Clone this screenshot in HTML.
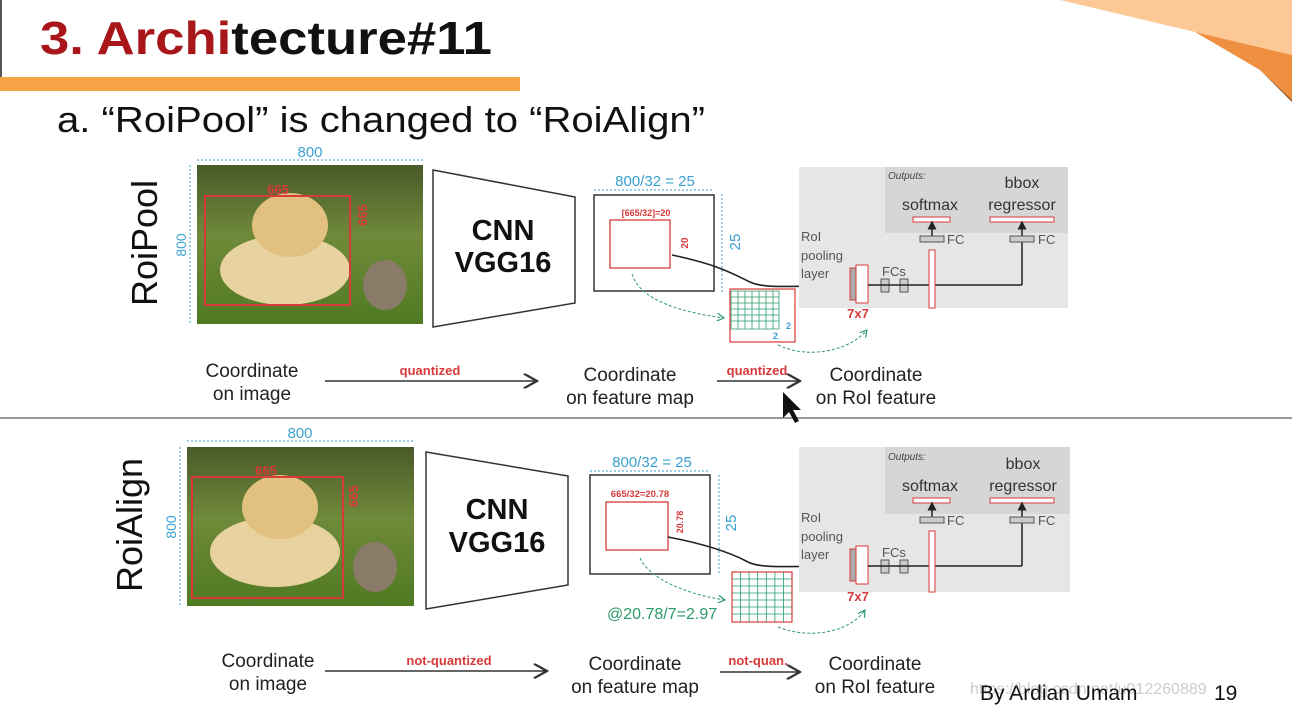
<!DOCTYPE html>
<html><head><meta charset="utf-8"><style>
html,body{margin:0;padding:0;background:#fff;}
svg{display:block;font-family:"Liberation Sans",sans-serif;}
</style></head><body>
<svg width="1292" height="708" viewBox="0 0 1292 708" xmlns="http://www.w3.org/2000/svg">
<defs>
<linearGradient id="ph" x1="0" y1="0" x2="0" y2="1">
<stop offset="0" stop-color="#4a5a2a"/><stop offset="0.45" stop-color="#6f8a3a"/><stop offset="1" stop-color="#4f7a22"/>
</linearGradient>
<marker id="ah" markerWidth="10" markerHeight="10" refX="9" refY="5" orient="auto"><path d="M0,0 L9,5 L0,10" fill="none" stroke="#333" stroke-width="1.5"/></marker>
<marker id="ag" markerWidth="8" markerHeight="8" refX="7" refY="4" orient="auto"><path d="M0,0 L7,4 L0,8" fill="none" stroke="#2a9a6a" stroke-width="1.2"/></marker>
<marker id="ak" markerWidth="6" markerHeight="6" refX="5" refY="3" orient="auto"><path d="M0,0 L6,3 L0,6Z" fill="#222"/></marker>
</defs>
<polygon points="1060,0 1292,0 1292,55 1195,32" fill="#fcc896"/>
<polygon points="1195,32 1292,55 1292,100 1260,70" fill="#ee9040"/>
<polygon points="1260,70 1292,100 1292,102" fill="#8a4a10"/>
<line x1="1" y1="0" x2="1" y2="90" stroke="#555" stroke-width="2"/>
<text x="40" y="54" font-size="46" font-weight="bold" textLength="452" lengthAdjust="spacingAndGlyphs"><tspan fill="#a8161a">3. Archi</tspan><tspan fill="#111">tecture#11</tspan></text>
<rect x="0" y="77" width="520" height="14" fill="#f7a345"/>
<text x="57" y="132" font-size="36" fill="#111" textLength="648" lengthAdjust="spacingAndGlyphs">a.  “RoiPool” is changed to “RoiAlign”</text>
<line x1="0" y1="418" x2="1292" y2="418" stroke="#777" stroke-width="1.5"/>

<text transform="translate(157,243) rotate(-90)" font-size="36" text-anchor="middle" fill="#111">RoiPool</text>
<line x1="197" y1="160" x2="423" y2="160" stroke="#3aa0d0" stroke-dasharray="2,2"/>
<text x="310" y="157" font-size="15" fill="#3aa0d0" text-anchor="middle">800</text>
<line x1="190" y1="165" x2="190" y2="324" stroke="#3aa0d0" stroke-dasharray="2,2"/>
<text transform="translate(186,245) rotate(-90)" font-size="14" fill="#3aa0d0" text-anchor="middle">800</text>
<rect x="197" y="165" width="226" height="159" fill="url(#ph)"/>
<ellipse cx="285" cy="270" rx="65" ry="35" fill="#e8d2a0"/>
<ellipse cx="290" cy="225" rx="38" ry="32" fill="#e2c080"/>
<ellipse cx="385" cy="285" rx="22" ry="25" fill="#8a7a68"/>
<rect x="205" y="196" width="145" height="109" fill="none" stroke="#d83a3a" stroke-width="2"/>
<text x="278" y="194" font-size="13" font-weight="bold" fill="#d83a3a" text-anchor="middle">665</text>
<text transform="translate(367,215) rotate(-90)" font-size="13" font-weight="bold" fill="#d83a3a" text-anchor="middle">665</text>
<polygon points="433,170 575,197 575,303 433,327" fill="#fff" stroke="#333" stroke-width="1.5"/>
<text x="503" y="240" font-size="29" font-weight="bold" text-anchor="middle" fill="#111">CNN</text>
<text x="503" y="272" font-size="29" font-weight="bold" text-anchor="middle" fill="#111">VGG16</text>
<text x="655" y="186" font-size="15" fill="#3aa0d0" text-anchor="middle">800/32 = 25</text>
<line x1="594" y1="190" x2="714" y2="190" stroke="#3aa0d0" stroke-dasharray="2,2"/>
<line x1="722" y1="194" x2="722" y2="292" stroke="#3aa0d0" stroke-dasharray="2,2"/>
<text transform="translate(740,242) rotate(-90)" font-size="15" fill="#3aa0d0" text-anchor="middle">25</text>
<rect x="594" y="195" width="120" height="96" fill="#fff" stroke="#333" stroke-width="1.5"/>
<rect x="610" y="220" width="60" height="48" fill="none" stroke="#d83a3a" stroke-width="1.3"/>
<text x="646" y="216" font-size="9" font-weight="bold" fill="#d83a3a" text-anchor="middle">[665/32]=20</text>
<text transform="translate(688,243) rotate(-90)" font-size="10" font-weight="bold" fill="#d83a3a" text-anchor="middle">20</text>
<path d="M672,255 C720,265 735,275 750,282 S790,286 852,285" fill="none" stroke="#222" stroke-width="1.6"/>
<rect x="730" y="289" width="65" height="53" fill="#fff" stroke="#d83a3a" stroke-width="1.2"/>
<g stroke="#2a9a6a" stroke-width="0.8">
<line x1="731" y1="291" x2="731" y2="329"/><line x1="738" y1="291" x2="738" y2="329"/><line x1="745" y1="291" x2="745" y2="329"/><line x1="752" y1="291" x2="752" y2="329"/><line x1="759" y1="291" x2="759" y2="329"/><line x1="766" y1="291" x2="766" y2="329"/><line x1="773" y1="291" x2="773" y2="329"/><line x1="779" y1="291" x2="779" y2="329"/>
<line x1="731" y1="291" x2="779" y2="291"/><line x1="731" y1="297" x2="779" y2="297"/><line x1="731" y1="303" x2="779" y2="303"/><line x1="731" y1="309" x2="779" y2="309"/><line x1="731" y1="315" x2="779" y2="315"/><line x1="731" y1="321" x2="779" y2="321"/><line x1="731" y1="329" x2="779" y2="329"/>
</g>
<text x="786" y="329" font-size="9" font-weight="bold" fill="#3aa0d0">2</text>
<text x="773" y="339" font-size="9" font-weight="bold" fill="#3aa0d0">2</text>
<path d="M632,274 C640,300 680,312 724,318" fill="none" stroke="#2a9a6a" stroke-dasharray="3,2" marker-end="url(#ag)"/>
<path d="M778,345 C810,360 850,350 867,330" fill="none" stroke="#2a9a6a" stroke-dasharray="3,2" marker-end="url(#ag)"/>
<rect x="799" y="167" width="269" height="141" fill="#e6e6e6"/>
<rect x="885" y="167" width="183" height="66" fill="#d6d6d6"/>
<text x="888" y="179" font-size="10" font-style="italic" fill="#444">Outputs:</text>
<text x="1022" y="188" font-size="16" fill="#333" text-anchor="middle">bbox</text>
<text x="930" y="210" font-size="16" fill="#333" text-anchor="middle">softmax</text>
<text x="1022" y="210" font-size="16" fill="#333" text-anchor="middle">regressor</text>
<rect x="913" y="217" width="37" height="5" fill="#fff" stroke="#d83a3a"/>
<rect x="990" y="217" width="64" height="5" fill="#fff" stroke="#d83a3a"/>
<text x="801" y="241" font-size="13" fill="#555">RoI</text>
<text x="801" y="260" font-size="13" fill="#555">pooling</text>
<text x="801" y="278" font-size="13" fill="#555">layer</text>
<rect x="850" y="268" width="6" height="32" fill="#aaa" stroke="#d83a3a"/>
<rect x="856" y="265" width="12" height="38" fill="#fff" stroke="#d83a3a"/>
<text x="858" y="318" font-size="13" font-weight="bold" fill="#d83a3a" text-anchor="middle">7x7</text>
<text x="882" y="276" font-size="13" fill="#555">FCs</text>
<rect x="881" y="279" width="8" height="13" fill="#ccc" stroke="#555"/>
<rect x="900" y="279" width="8" height="13" fill="#ccc" stroke="#555"/>
<line x1="868" y1="285" x2="1022" y2="285" stroke="#222" stroke-width="1.5"/>
<line x1="1022" y1="285" x2="1022" y2="222" stroke="#222" stroke-width="1.5" marker-end="url(#ak)"/>
<line x1="932" y1="240" x2="932" y2="222" stroke="#222" stroke-width="1.5" marker-end="url(#ak)"/>
<rect x="929" y="250" width="6" height="58" fill="#fff" stroke="#d83a3a"/>
<rect x="920" y="236" width="24" height="6" fill="#ccc" stroke="#555"/>
<rect x="1010" y="236" width="24" height="6" fill="#ccc" stroke="#555"/>
<text x="947" y="244" font-size="13" fill="#555">FC</text>
<text x="1038" y="244" font-size="13" fill="#555">FC</text>
<g font-size="19" fill="#222" text-anchor="middle">
<text x="252" y="377">Coordinate</text><text x="252" y="400">on image</text>
<text x="630" y="381">Coordinate</text><text x="630" y="404">on feature map</text>
<text x="876" y="381">Coordinate</text><text x="876" y="404">on RoI feature</text>
</g>
<line x1="325" y1="381" x2="537" y2="381" stroke="#333" stroke-width="1.5" marker-end="url(#ah)"/>
<text x="430" y="375" font-size="13" font-weight="bold" fill="#d83a3a" text-anchor="middle">quantized</text>
<line x1="717" y1="381" x2="800" y2="381" stroke="#333" stroke-width="1.5" marker-end="url(#ah)"/>
<text x="757" y="375" font-size="13" font-weight="bold" fill="#d83a3a" text-anchor="middle">quantized</text>
<polygon points="783,392 783,418 789,412 795,423 799,421 793,410 801,410" fill="#111"/>

<text transform="translate(142,525) rotate(-90)" font-size="36" text-anchor="middle" fill="#111">RoiAlign</text>
<line x1="187" y1="441" x2="414" y2="441" stroke="#3aa0d0" stroke-dasharray="2,2"/>
<text x="300" y="438" font-size="15" fill="#3aa0d0" text-anchor="middle">800</text>
<line x1="180" y1="447" x2="180" y2="606" stroke="#3aa0d0" stroke-dasharray="2,2"/>
<text transform="translate(176,527) rotate(-90)" font-size="14" fill="#3aa0d0" text-anchor="middle">800</text>
<rect x="187" y="447" width="227" height="159" fill="url(#ph)"/>
<ellipse cx="275" cy="552" rx="65" ry="35" fill="#e8d2a0"/>
<ellipse cx="280" cy="507" rx="38" ry="32" fill="#e2c080"/>
<ellipse cx="375" cy="567" rx="22" ry="25" fill="#8a7a68"/>
<rect x="192" y="477" width="151" height="121" fill="none" stroke="#d83a3a" stroke-width="2"/>
<text x="266" y="475" font-size="13" font-weight="bold" fill="#d83a3a" text-anchor="middle">665</text>
<text transform="translate(358,496) rotate(-90)" font-size="13" font-weight="bold" fill="#d83a3a" text-anchor="middle">665</text>
<polygon points="426,452 568,476 568,585 426,609" fill="#fff" stroke="#333" stroke-width="1.5"/>
<text x="497" y="519" font-size="29" font-weight="bold" text-anchor="middle" fill="#111">CNN</text>
<text x="497" y="552" font-size="29" font-weight="bold" text-anchor="middle" fill="#111">VGG16</text>
<text x="652" y="467" font-size="15" fill="#3aa0d0" text-anchor="middle">800/32 = 25</text>
<line x1="590" y1="471" x2="710" y2="471" stroke="#3aa0d0" stroke-dasharray="2,2"/>
<line x1="719" y1="475" x2="719" y2="574" stroke="#3aa0d0" stroke-dasharray="2,2"/>
<text transform="translate(736,523) rotate(-90)" font-size="15" fill="#3aa0d0" text-anchor="middle">25</text>
<rect x="590" y="475" width="120" height="99" fill="#fff" stroke="#333" stroke-width="1.5"/>
<rect x="606" y="502" width="62" height="48" fill="none" stroke="#d83a3a" stroke-width="1.3"/>
<text x="640" y="497" font-size="9.5" font-weight="bold" fill="#d83a3a" text-anchor="middle">665/32=20.78</text>
<text transform="translate(683,522) rotate(-90)" font-size="9" font-weight="bold" fill="#d83a3a" text-anchor="middle">20.78</text>
<path d="M668,537 C710,545 735,555 748,562 S790,566 850,566" fill="none" stroke="#222" stroke-width="1.6"/>
<rect x="732" y="572" width="60" height="50" fill="#fff" stroke="#d83a3a" stroke-width="1.2"/>
<g stroke="#2a9a6a" stroke-width="0.8">
<line x1="740.6" y1="572" x2="740.6" y2="622"/><line x1="749.1" y1="572" x2="749.1" y2="622"/><line x1="757.7" y1="572" x2="757.7" y2="622"/><line x1="766.3" y1="572" x2="766.3" y2="622"/><line x1="774.9" y1="572" x2="774.9" y2="622"/><line x1="783.4" y1="572" x2="783.4" y2="622"/>
<line x1="732" y1="579" x2="792" y2="579"/><line x1="732" y1="586" x2="792" y2="586"/><line x1="732" y1="593" x2="792" y2="593"/><line x1="732" y1="600" x2="792" y2="600"/><line x1="732" y1="607" x2="792" y2="607"/><line x1="732" y1="614" x2="792" y2="614"/>
</g>
<text x="607" y="619" font-size="16" fill="#2a9a6a">@20.78/7=2.97</text>
<path d="M640,558 C650,580 690,595 725,600" fill="none" stroke="#2a9a6a" stroke-dasharray="3,2" marker-end="url(#ag)"/>
<path d="M778,627 C810,640 850,632 865,610" fill="none" stroke="#2a9a6a" stroke-dasharray="3,2" marker-end="url(#ag)"/>
<rect x="799" y="447" width="271" height="145" fill="#e6e6e6"/>
<rect x="885" y="447" width="185" height="67" fill="#d6d6d6"/>
<text x="888" y="460" font-size="10" font-style="italic" fill="#444">Outputs:</text>
<text x="1023" y="469" font-size="16" fill="#333" text-anchor="middle">bbox</text>
<text x="930" y="491" font-size="16" fill="#333" text-anchor="middle">softmax</text>
<text x="1023" y="491" font-size="16" fill="#333" text-anchor="middle">regressor</text>
<rect x="913" y="498" width="37" height="5" fill="#fff" stroke="#d83a3a"/>
<rect x="990" y="498" width="64" height="5" fill="#fff" stroke="#d83a3a"/>
<text x="801" y="522" font-size="13" fill="#555">RoI</text>
<text x="801" y="541" font-size="13" fill="#555">pooling</text>
<text x="801" y="559" font-size="13" fill="#555">layer</text>
<rect x="850" y="549" width="6" height="32" fill="#aaa" stroke="#d83a3a"/>
<rect x="856" y="546" width="12" height="38" fill="#fff" stroke="#d83a3a"/>
<text x="858" y="601" font-size="13" font-weight="bold" fill="#d83a3a" text-anchor="middle">7x7</text>
<text x="882" y="557" font-size="13" fill="#555">FCs</text>
<rect x="881" y="560" width="8" height="13" fill="#ccc" stroke="#555"/>
<rect x="900" y="560" width="8" height="13" fill="#ccc" stroke="#555"/>
<line x1="868" y1="566" x2="1022" y2="566" stroke="#222" stroke-width="1.5"/>
<line x1="1022" y1="566" x2="1022" y2="503" stroke="#222" stroke-width="1.5" marker-end="url(#ak)"/>
<line x1="932" y1="521" x2="932" y2="503" stroke="#222" stroke-width="1.5" marker-end="url(#ak)"/>
<rect x="929" y="531" width="6" height="61" fill="#fff" stroke="#d83a3a"/>
<rect x="920" y="517" width="24" height="6" fill="#ccc" stroke="#555"/>
<rect x="1010" y="517" width="24" height="6" fill="#ccc" stroke="#555"/>
<text x="947" y="525" font-size="13" fill="#555">FC</text>
<text x="1038" y="525" font-size="13" fill="#555">FC</text>
<g font-size="19" fill="#222" text-anchor="middle">
<text x="268" y="667">Coordinate</text><text x="268" y="690">on image</text>
<text x="635" y="670">Coordinate</text><text x="635" y="693">on feature map</text>
<text x="875" y="670">Coordinate</text><text x="875" y="693">on RoI feature</text>
</g>
<line x1="325" y1="671" x2="547" y2="671" stroke="#333" stroke-width="1.5" marker-end="url(#ah)"/>
<text x="449" y="665" font-size="13" font-weight="bold" fill="#d83a3a" text-anchor="middle">not-quantized</text>
<line x1="720" y1="672" x2="800" y2="672" stroke="#333" stroke-width="1.5" marker-end="url(#ah)"/>
<text x="758" y="665" font-size="13" font-weight="bold" fill="#d83a3a" text-anchor="middle">not-quan.</text>
<text x="970" y="694" font-size="16" fill="#ccc">https://blog.csdn.net/u012260889</text>
<text x="980" y="700" font-size="21" fill="#111">By Ardian Umam</text>
<text x="1214" y="700" font-size="21" fill="#111">19</text>
</svg>
</body></html>
